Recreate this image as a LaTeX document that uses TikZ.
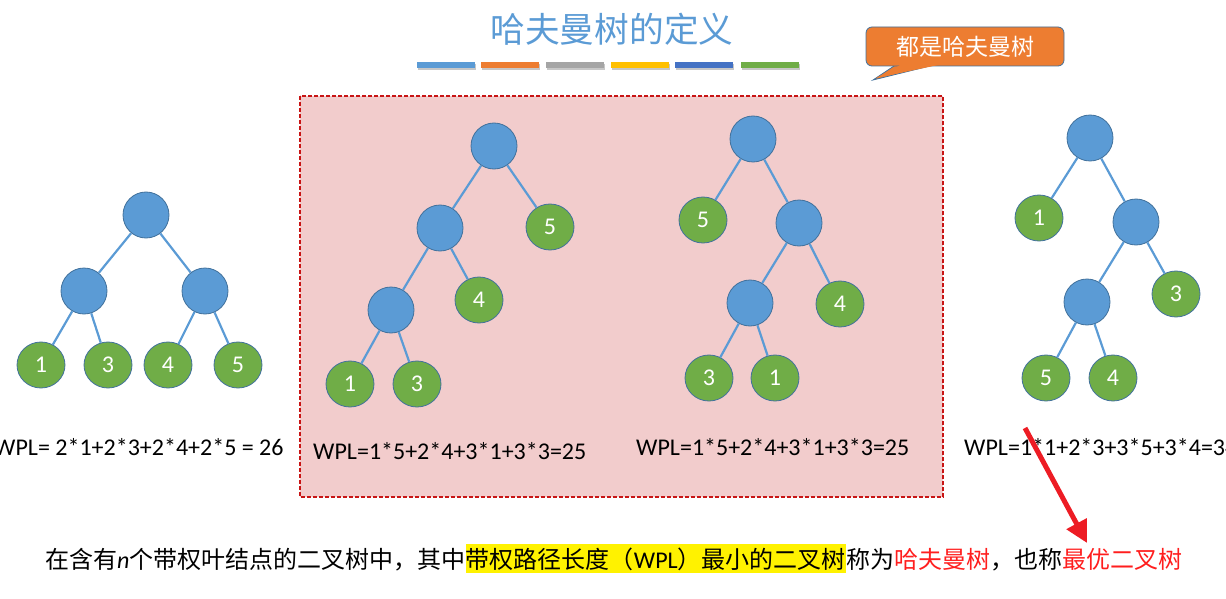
\documentclass[tikz,border=0pt]{standalone}
\usepackage{fontspec}
\setmainfont{Carlito}
\newfontfamily\cjk{Noto Sans CJK SC}
\usetikzlibrary{arrows.meta,shapes.geometric}
\definecolor{nodeblue}{RGB}{91,155,213}
\definecolor{nodeborder}{RGB}{65,113,156}
\definecolor{leafgreen}{RGB}{112,173,71}
\definecolor{pinkfill}{RGB}{242,204,204}
\definecolor{dashred}{RGB}{200,20,20}
\definecolor{calloutorange}{RGB}{237,125,49}
\definecolor{arrowred}{RGB}{237,28,36}
\definecolor{barA}{RGB}{91,155,213}
\definecolor{barB}{RGB}{237,125,49}
\definecolor{barC}{RGB}{165,165,165}
\definecolor{barD}{RGB}{255,192,0}
\definecolor{barE}{RGB}{68,114,196}
\definecolor{barF}{RGB}{112,173,71}
\definecolor{textred}{RGB}{255,30,30}
\tikzset{
  inode/.style={circle, draw=nodeborder, fill=nodeblue, minimum size=46pt, inner sep=0pt, line width=0.8pt},
  leaf/.style={ellipse, draw=nodeborder, fill=leafgreen, minimum width=48pt, minimum height=46pt, inner sep=0pt, line width=0.8pt, text=white, font=\fontsize{24}{24}\selectfont},
  edge/.style={draw=nodeblue, line width=2.2pt},
  wpl/.style={anchor=base west, inner sep=0pt, font=\fontsize{24}{26}\selectfont},
  bar/.style={fill=#1},
  barshadow/.style={fill=black!22},
  bottomtext/.style={anchor=base west, inner xsep=0pt, inner ysep=0pt, font=\fontsize{24}{26}\selectfont}
}
\begin{document}
\begin{tikzpicture}[x=1pt,y=-1pt]
\useasboundingbox (0,0) rectangle (1226,599);
\clip (0,0) rectangle (1226,599);

% title
\node[text=nodeblue, font=\cjk\fontsize{34.7}{36}\selectfont, inner sep=0pt] (title) at (612,29) {哈夫曼树的定义};

% colour bars
\foreach \xa/\xb/\c [count=\i] in {417/475/barA, 481/539/barB, 546/604/barC, 611/669/barD, 675/733/barE, 741/799/barF}{
  \fill[barshadow] (\xa+1,62.5+2) rectangle (\xb+1,68.5+2);
  \fill[bar=\c] (\xa,62.5) rectangle (\xb,68.5);
}

% callout
\draw[fill=calloutorange, draw=nodeborder, line width=0.8pt] (900,62) -- (873,80) -- (946,62);
\node[draw=nodeborder, fill=calloutorange, rounded corners=6pt, line width=0.8pt, minimum width=198pt, minimum height=39pt, inner sep=0pt, text=white, font=\cjk\fontsize{23}{24}\selectfont] (callout) at (965,46.5) {都是哈夫曼树};
\fill[calloutorange] (902,64) -- (876,78) -- (943,64) -- cycle;

% pink box
\draw[fill=pinkfill, draw=dashred, line width=1.3pt, dash pattern=on 4pt off 2pt] (300,96) rectangle (943,497);

% left tree
\node[inode] (l0) at (146,215) {};
\node[inode] (l1) at (84,291) {};
\node[inode] (l2) at (205,291) {};
\node[leaf] (l3) at (41,365) {1};
\node[leaf] (l4) at (108,365) {3};
\node[leaf] (l5) at (168,365) {4};
\node[leaf] (l6) at (238,365) {5};
\draw[edge] (l0) -- (l1); \draw[edge] (l0) -- (l2);
\draw[edge] (l1) -- (l3); \draw[edge] (l1) -- (l4);
\draw[edge] (l2) -- (l5); \draw[edge] (l2) -- (l6);
\node[wpl] (lw) at (-6,455) {WPL= 2*1+2*3+2*4+2*5 = 26};

% middle-left tree
\node[inode] (a0) at (494,146) {};
\node[inode] (a1) at (440,228) {};
\node[leaf] (a2) at (550,227) {5};
\node[inode] (a3) at (391,310) {};
\node[leaf] (a4) at (479,300) {4};
\node[leaf] (a5) at (350,384) {1};
\node[leaf] (a6) at (417,384) {3};
\draw[edge] (a0) -- (a1); \draw[edge] (a0) -- (a2);
\draw[edge] (a1) -- (a3); \draw[edge] (a1) -- (a4);
\draw[edge] (a3) -- (a5); \draw[edge] (a3) -- (a6);
\node[wpl] (aw) at (313,459) {WPL=1*5+2*4+3*1+3*3=25};

% middle-right tree
\node[inode] (b0) at (753,139) {};
\node[leaf] (b1) at (703,220) {5};
\node[inode] (b2) at (799,223) {};
\node[inode] (b3) at (750,303) {};
\node[leaf] (b4) at (840,304) {4};
\node[leaf] (b5) at (709,378) {3};
\node[leaf] (b6) at (775,378) {1};
\draw[edge] (b0) -- (b1); \draw[edge] (b0) -- (b2);
\draw[edge] (b2) -- (b3); \draw[edge] (b2) -- (b4);
\draw[edge] (b3) -- (b5); \draw[edge] (b3) -- (b6);
\node[wpl] (bw) at (636,455) {WPL=1*5+2*4+3*1+3*3=25};

% right tree
\node[inode] (c0) at (1090,138) {};
\node[leaf] (c1) at (1039,218) {1};
\node[inode] (c2) at (1136,222) {};
\node[inode] (c3) at (1087,302) {};
\node[leaf] (c4) at (1176,294) {3};
\node[leaf] (c5) at (1046,378) {5};
\node[leaf] (c6) at (1113,378) {4};
\draw[edge] (c0) -- (c1); \draw[edge] (c0) -- (c2);
\draw[edge] (c2) -- (c3); \draw[edge] (c2) -- (c4);
\draw[edge] (c3) -- (c5); \draw[edge] (c3) -- (c6);
\node[wpl] (cw) at (964,455) {WPL=1*1+2*3+3*5+3*4=34};

% bottom text
\node[bottomtext] (t1) at (45,568) {\cjk 在含有{\rmfamily\itshape n}个带权叶结点的二叉树中，其中};
\node[bottomtext, fill=yellow, inner ysep=3pt] (t2) at (t1.base east) {\cjk 带权路径长度（{\rmfamily WPL}）最小的二叉树};
\node[bottomtext] (t3) at (t2.base east) {\cjk 称为\textcolor{textred}{哈夫曼树}，也称\textcolor{textred}{最优二叉树}};

% red arrow
\coordinate (arrowstart) at (1025,428);
\coordinate (arrowend) at (1087,543);
\draw[arrowred, line width=5pt, -{Triangle[length=22pt,width=22pt]}] (arrowstart) -- (arrowend);
\end{tikzpicture}
\end{document}
